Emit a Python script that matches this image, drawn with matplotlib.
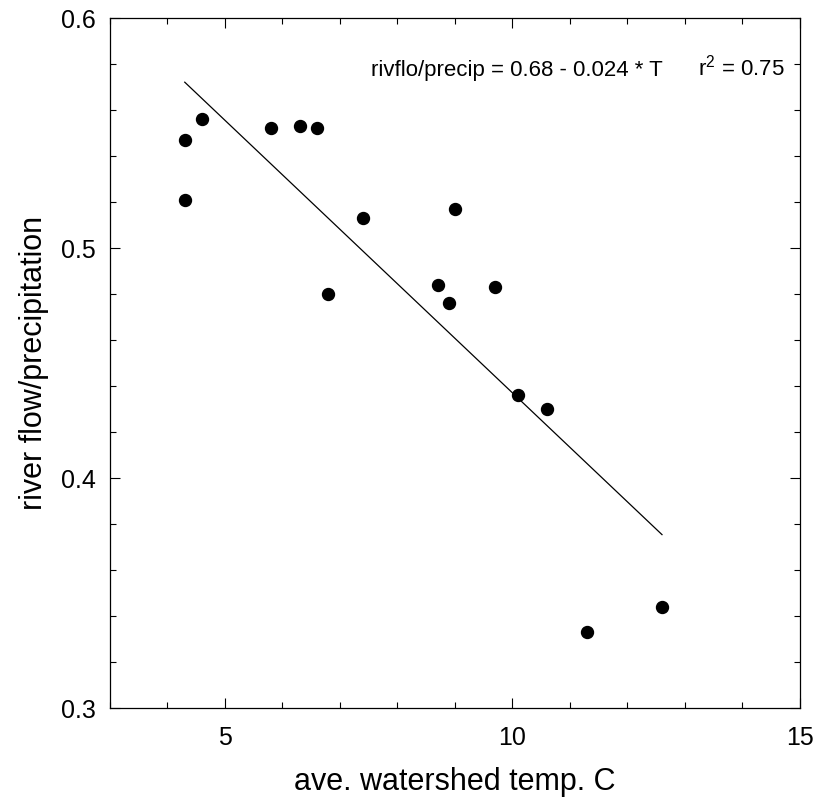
import matplotlib
matplotlib.use('Agg')
import matplotlib.pyplot as plt
from matplotlib.ticker import MultipleLocator

# mean watershed temperature (C) and river flow / precipitation ratio
temp = [4.3, 4.6, 5.8, 6.3, 6.6, 4.3, 7.4, 9.0, 6.8, 8.7, 8.9, 9.7, 10.1, 10.6, 11.3, 12.6]
ratio = [0.547, 0.556, 0.552, 0.553, 0.552, 0.521, 0.513, 0.517, 0.480, 0.484,
         0.476, 0.483, 0.436, 0.430, 0.333, 0.344]

# regression line
fit_x = [4.3, 12.6]
fit_intercept = 0.674
fit_slope = -0.0237
fit_y = [fit_intercept + fit_slope * t for t in fit_x]

eq_text = 'rivflo/precip = 0.68 - 0.024 * T'
r2_text = 'r$^2$ = 0.75'

plt.rcParams['font.family'] = ['Liberation Sans', 'DejaVu Sans']
plt.rcParams['mathtext.fontset'] = 'custom'
plt.rcParams['mathtext.rm'] = 'Liberation Sans'
plt.rcParams['mathtext.it'] = 'Liberation Sans'

fig = plt.figure(figsize=(8.2, 8.01), dpi=100)
ax = fig.add_axes([110 / 820, 93 / 801, 690 / 820, 690 / 801])

ax.plot(fit_x, fit_y, color='black', linewidth=0.9)
ax.plot(temp, ratio, 'o', color='black', markersize=8.6, linestyle='none')

ax.set_xlim(3, 15)
ax.set_ylim(0.3, 0.6)
ax.xaxis.set_minor_locator(MultipleLocator(1))
ax.yaxis.set_minor_locator(MultipleLocator(0.02))
ax.set_xticks([5, 10, 15])
ax.set_yticks([0.3, 0.4, 0.5, 0.6])
ax.set_xticklabels(['5', '10', '15'])
ax.set_yticklabels(['0.3', '0.4', '0.5', '0.6'])

ax.tick_params(which='both', direction='in', top=True, right=True, width=0.8, color='black')
ax.tick_params(which='major', length=7, labelsize=18)
ax.tick_params(which='minor', length=4)
ax.tick_params(axis='x', which='major', pad=13)
ax.tick_params(axis='y', which='major', pad=10)
for s in ax.spines.values():
    s.set_linewidth(0.9)

ax.set_xlabel('ave. watershed temp. C', fontsize=22, labelpad=12)
ax.set_ylabel('river flow/precipitation', fontsize=22, labelpad=9)

ax.text(0.801, 0.916, eq_text, transform=ax.transAxes, ha='right', va='baseline', fontsize=16)
ax.text(0.852, 0.916, r2_text, transform=ax.transAxes, ha='left', va='baseline', fontsize=16)

fig.savefig('out.png', dpi=100)
